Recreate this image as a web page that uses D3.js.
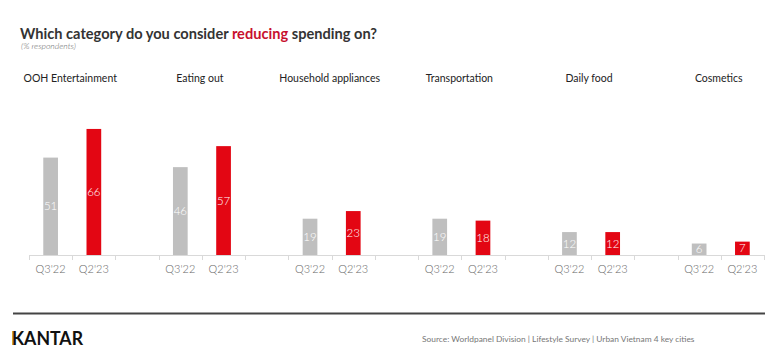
<!DOCTYPE html>
<html>
<head>
<meta charset="utf-8">
<script src="https://cdn.jsdelivr.net/npm/d3@7"></script>
<style>
  html, body { margin: 0; padding: 0; background: #fff; }
  svg { display: block; font-family: Lato, "Open Sans", sans-serif; }
</style>
</head>
<body>
<svg id="chart" width="783" height="359"></svg>
<script>
const categories = ["OOH Entertainment", "Eating out", "Household appliances", "Transportation", "Daily food", "Cosmetics"];
const periods = ["Q3'22", "Q2'23"];
const q3_22 = [51, 46, 19, 19, 12, 6];
const q2_23 = [66, 57, 23, 18, 12, 7];
const seriesColors = ["#bfbfbf", "#e30613"];

const svg = d3.select("#chart");

// slots: two bars per category, gap slot between categories
const slots = [];
categories.forEach((c, i) => {
  periods.forEach((p, j) => slots.push({ key: c + "|" + p, cat: i, per: j, value: j === 0 ? q3_22[i] : q2_23[i] }));
  if (i < categories.length - 1) slots.push({ key: "gap" + i, gap: true });
});

const x = d3.scaleBand().domain(slots.map(s => s.key)).range([29, 764]).padding(0);
const y = d3.scaleLinear().domain([0, 70]).range([255, 121.3]);

const barW = x.step() * 0.34;

// title
const title = svg.append("text").attr("x", 20).attr("y", 39)
  .attr("font-size", 14.6).attr("font-weight", 700).attr("fill", "#333")
  .attr("textLength", 357).attr("lengthAdjust", "spacing");
title.append("tspan").text("Which category do you consider ");
title.append("tspan").attr("fill", "#c8102e").text("reducing");
title.append("tspan").text(" spending on?");

svg.append("text").attr("x", 21).attr("y", 48.5).attr("font-size", 8.6)
  .attr("font-style", "italic").attr("font-weight", 300).attr("fill", "#666").text("(% respondents)");

// category headers
const dataSlots = slots.filter(s => !s.gap);
categories.forEach((c, i) => {
  const a = x(c + "|" + periods[0]);
  const b = x(c + "|" + periods[1]) + x.bandwidth();
  svg.append("text").attr("x", (a + b) / 2 - 2).attr("y", 81.5)
    .attr("text-anchor", "middle").attr("font-size", 10.5).attr("fill", "#222").text(c);
});

// bars
const bars = svg.append("g");
bars.selectAll("rect").data(dataSlots).join("rect")
  .attr("x", d => x(d.key) + x.bandwidth() / 2 - barW / 2)
  .attr("width", barW)
  .attr("y", d => y(d.value))
  .attr("height", d => y(0) - y(d.value))
  .attr("fill", d => seriesColors[d.per]);

bars.selectAll("text").data(dataSlots).join("text")
  .attr("x", d => x(d.key) + x.bandwidth() / 2)
  .attr("y", d => (y(d.value) + y(0)) / 2)
  .attr("dy", "0.36em")
  .attr("text-anchor", "middle").attr("font-size", 11.5).attr("font-weight", 300).attr("fill", "#fff")
  .text(d => d.value);

// axis
const axis = svg.append("g").attr("stroke", "#d9d9d9");
axis.append("line").attr("x1", x.range()[0]).attr("x2", x.range()[1])
  .attr("y1", 255.5).attr("y2", 255.5);
const boundaries = slots.map(s => x(s.key)).concat([x.range()[1]]);
axis.selectAll("line.tick").data(boundaries).join("line").attr("class", "tick")
  .attr("x1", d => Math.round(d) + 0.5).attr("x2", d => Math.round(d) + 0.5)
  .attr("y1", 255).attr("y2", 260);

svg.append("g").selectAll("text").data(dataSlots).join("text")
  .attr("x", d => x(d.key) + x.bandwidth() / 2)
  .attr("y", 273)
  .attr("text-anchor", "middle").attr("font-size", 11).attr("font-weight", 300).attr("fill", "#666")
  .text(d => periods[d.per]);

// footer
svg.append("line").attr("x1", 13).attr("x2", 765).attr("y1", 313.5).attr("y2", 313.5)
  .attr("stroke", "#444").attr("stroke-width", 2);
svg.append("rect").attr("x", 12).attr("y", 331).attr("width", 2.5).attr("height", 14).attr("fill", "#d4a62a");
svg.append("text").attr("x", 12).attr("y", 345).attr("font-size", 19).attr("font-weight", 700)
  .attr("fill", "#111").attr("textLength", 71).attr("lengthAdjust", "spacingAndGlyphs").text("KANTAR");
svg.append("text").attr("x", 422).attr("y", 342).attr("font-size", 8.4).attr("fill", "#777")
  .text("Source: Worldpanel Division | Lifestyle Survey | Urban Vietnam 4 key cities");
</script>
</body>
</html>
